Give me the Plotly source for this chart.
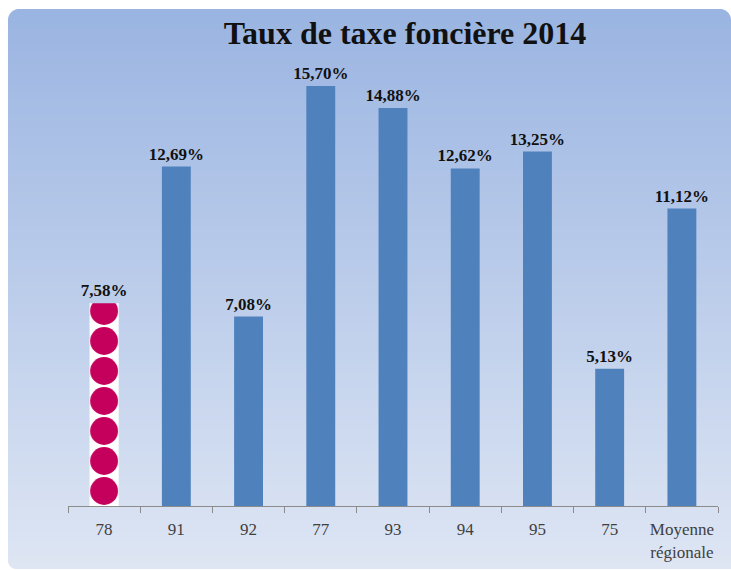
import plotly.graph_objects as go
import numpy as np

departements = ["78", "91", "92", "77", "93", "94", "95", "75", "Moyenne<br>régionale"]
taux = [7.58, 12.69, 7.08, 15.70, 14.88, 12.62, 13.25, 5.13, 11.12]

W, H = 731, 570
ML, MR, MT, MB = 68, 13, 78, 64
PW, PH = W - ML - MR, H - MT - MB
YMAX = 16.0
UNIT = PH / YMAX  # px per %


def px(x):
    return (x - ML) / PW


def py(y):
    return (H - MB - y) / PH


labels = [("%.2f" % v).replace(".", ",") + "%" for v in taux]
font_lbl = dict(family="Liberation Serif", size=17, color="#111111")

fig = go.Figure()

# regular bars (the 78 slot is kept empty here, drawn below with the logo pattern)
fig.add_trace(
    go.Bar(
        x=departements,
        y=taux,
        width=0.4,
        text=[""] + ["<b>%s</b>" % t for t in labels[1:]],
        textposition="outside",
        constraintext="none",
        cliponaxis=False,
        textfont=font_lbl,
        marker=dict(color=["rgba(0,0,0,0)"] + ["#4f81bd"] * (len(taux) - 1), line=dict(width=0)),
        hoverinfo="skip",
    )
)

# first bar (78) with the pink logo pattern, on its own axes so the tiles line up
tile = 30
cat_w = PW / len(departements)
bar_c = ML + cat_w / 2
x2_lo = bar_c - tile / 2
top_px = (H - MB - tile / 2) - 13 * tile - tile / 2
fig.add_trace(
    go.Bar(
        x=[departements[0]],
        y=[taux[0]],
        width=0.97,
        text=["<b>%s</b>" % labels[0]],
        textposition="outside",
        constraintext="none",
        cliponaxis=False,
        textfont=font_lbl,
        xaxis="x2",
        yaxis="y2",
        marker=dict(
            color="#c4005c",
            line=dict(width=0),
            pattern=dict(shape=".", fillmode="replace", bgcolor="#ffffff",
                         size=tile, solidity=0.68),
        ),
        hoverinfo="skip",
    )
)

# gradient background made of thin stripes
shapes = []
top, bottom = 9, 569
n = 80
c0 = np.array([155, 181, 226])
c1 = np.array([222, 230, 244])
edges = np.linspace(top, bottom, n + 1)
for i in range(n):
    t = i / (n - 1)
    c = (c0 + (c1 - c0) * t).astype(int)
    shapes.append(dict(
        type="rect", xref="paper", yref="paper", layer="below",
        x0=px(8), x1=px(731), y0=py(edges[i]), y1=py(min(edges[i + 1] + 0.6, bottom)),
        fillcolor="rgb(%d,%d,%d)" % tuple(c), line=dict(width=0),
    ))


# white masks for the rounded corners
def corner(cx, cy, sx, sy, r):
    ang = np.linspace(0, np.pi / 2, 14)
    ox, oy = cx + sx * r, cy + sy * r
    pts = [(ox - sx * r * np.sin(a), oy - sy * r * np.cos(a)) for a in ang]
    path = "M %f,%f " % (px(cx - sx), py(cy - sy))
    path += "L %f,%f " % (px(cx + sx * r), py(cy - sy))
    path += " ".join("L %f,%f" % (px(a), py(b)) for a, b in pts)
    path += " L %f,%f Z" % (px(cx - sx), py(cy + sy * r))
    return path


for cx, cy, sx, sy, r in [(8, 9, 1, 1, 11), (731, 9, -1, 1, 11), (8, 569, 1, -1, 8)]:
    shapes.append(dict(
        type="path", xref="paper", yref="paper", layer="below",
        path=corner(cx, cy, sx, sy, r), fillcolor="white", line=dict(width=0),
    ))

fig.update_layout(
    width=W,
    height=H,
    autosize=False,
    margin=dict(l=ML, r=MR, t=MT, b=MB, autoexpand=False),
    paper_bgcolor="white",
    plot_bgcolor="rgba(0,0,0,0)",
    showlegend=False,
    barmode="overlay",
    shapes=shapes,
    title=dict(
        text="<b>Taux de taxe foncière 2014</b>",
        x=405 / W,
        xanchor="center",
        y=1 - 33 / H,
        yanchor="middle",
        font=dict(family="Liberation Serif", size=32, color="#111111"),
        automargin=False,
    ),
    xaxis=dict(
        type="category",
        range=[-0.5, len(departements) - 0.5],
        automargin=False,
        tickangle=0,
        showline=True,
        linecolor="#8c8c8c",
        linewidth=1,
        ticks="outside",
        tickson="boundaries",
        ticklen=6,
        tickcolor="#8c8c8c",
        ticklabelstandoff=8,
        tickfont=dict(family="Liberation Serif", size=17, color="#404040"),
        showgrid=False,
    ),
    yaxis=dict(range=[0, YMAX], visible=False, showgrid=False, automargin=False),
    xaxis2=dict(
        type="category",
        domain=[px(x2_lo), px(x2_lo + tile)],
        range=[-0.5, 0.5],
        anchor="y2",
        visible=False,
        automargin=False,
    ),
    yaxis2=dict(
        domain=[0, py(top_px)],
        range=[0, (H - MB - top_px) / UNIT],
        anchor="x2",
        visible=False,
        automargin=False,
    ),
)

fig.write_html(
    "out.html",
    config={"displayModeBar": False},
    post_script="document.body.style.margin='0';document.body.style.overflow='hidden';",
)
